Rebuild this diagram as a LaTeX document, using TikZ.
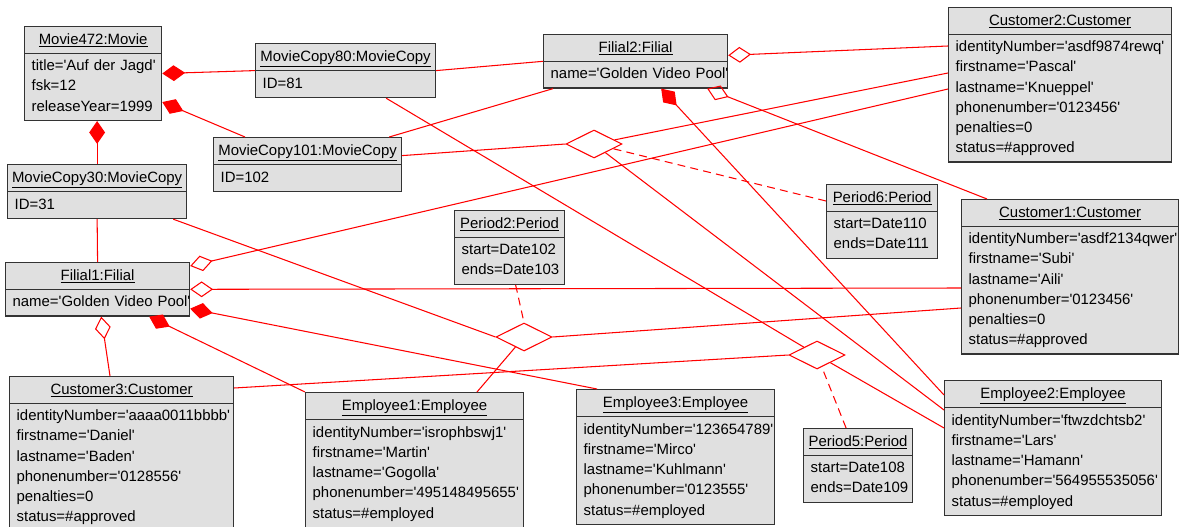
\documentclass[tikz,border=0pt]{standalone}
\usepackage{fontspec}
\setmainfont{Liberation Sans}[Ligatures=TeXOff]
\usepackage{tikz}
\usetikzlibrary{shapes.multipart}
\usetikzlibrary{shapes.geometric}
\usetikzlibrary{arrows.meta}
\definecolor{objgray}{HTML}{E0E0E0}
\definecolor{linkred}{HTML}{FF0000}
\newcommand{\objnode}[5]{
  \node[obj, text width=#3] (#1) at (#2) {\makebox[\linewidth]{\underline{#4}}\strut
    \nodepart{two}\begin{tabular}[t]{@{}l@{}}#5\end{tabular}};
}

\begin{document}
\begin{tikzpicture}[x=0.02cm, y=-0.02cm,
    obj/.style={rectangle split, rectangle split parts=2, draw=black!80, fill=objgray, line width=0.7pt,
      inner xsep=4pt, inner ysep=1.5pt, anchor=north west, font=\fontsize{8.5}{11.5}\selectfont},
    link/.style={draw=linkred, line width=0.6pt},
    aggr/.style={arrows={Diamond[open, length=13pt, width=9pt]-}},
    comp/.style={arrows={Diamond[length=13pt, width=9pt]-}},
    assoc/.style={diamond, draw=linkred, fill=white, line width=0.6pt, minimum width=1.12cm, minimum height=0.56cm, inner sep=0pt},
    period/.style={link, dash pattern=on 4.5pt off 3pt}]
    \useasboundingbox (0,0) rectangle (1179,527);

    \objnode{mov}{24,26}{70pt}{Movie472:Movie}{title='Auf der Jagd'\\fsk=12\\releaseYear=1999}
    \objnode{mc80}{255,43}{94.4pt}{MovieCopy80:MovieCopy}{ID=81}
    \objnode{mc101}{213,137}{99pt}{MovieCopy101:MovieCopy}{ID=102}
    \objnode{mc30}{7,164}{93.9pt}{MovieCopy30:MovieCopy}{ID=31}
    \objnode{fil2}{543,34}{96.7pt}{Filial2:Filial}{name='Golden Video Pool'}
    \objnode{fil1}{5,262}{96.7pt}{Filial1:Filial}{name='Golden Video Pool'}
    \objnode{cust2}{948,7}{118.9pt}{Customer2:Customer}{identityNumber='asdf9874rewq'\\firstname='Pascal'\\lastname='Knueppel'\\phonenumber='0123456'\\penalties=0\\status=\#approved}
    \objnode{cust1}{961,199}{115.5pt}{Customer1:Customer}{identityNumber='asdf2134qwer'\\firstname='Subi'\\lastname='Aili'\\phonenumber='0123456'\\penalties=0\\status=\#approved}
    \objnode{cust3}{9,376}{119.5pt}{Customer3:Customer}{identityNumber='aaaa0011bbbb'\\firstname='Daniel'\\lastname='Baden'\\phonenumber='0128556'\\penalties=0\\status=\#approved}
    \objnode{per6}{826,184}{55.2pt}{Period6:Period}{start=Date110\\ends=Date111}
    \objnode{per2}{454,210}{54.6pt}{Period2:Period}{start=Date102\\ends=Date103}
    \objnode{per5}{803,428}{54pt}{Period5:Period}{start=Date108\\ends=Date109}
    \objnode{emp1}{305,392}{116pt}{Employee1:Employee}{identityNumber='isrophbswj1'\\firstname='Martin'\\lastname='Gogolla'\\phonenumber='495148495655'\\status=\#employed}
    \objnode{emp3}{576,389}{104.7pt}{Employee3:Employee}{identityNumber='123654789'\\firstname='Mirco'\\lastname='Kuhlmann'\\phonenumber='0123555'\\status=\#employed}
    \objnode{emp2}{944,380}{115.5pt}{Employee2:Employee}{identityNumber='ftwzdchtsb2'\\firstname='Lars'\\lastname='Hamann'\\phonenumber='564955535056'\\status=\#employed}

    \node[assoc] (d1) at (594,144) {};
    \node[assoc] (d2) at (524,337) {};
    \node[assoc] (d3) at (817,355) {};

    \draw[link, comp] (mov.east) -- (mc80.west);
    \draw[link, comp] ([shift={(0,-19)}]mov.south east) -- ([shift={(32,0)}]mc101.north west);
    \draw[link, comp] (mov.south -| mc30.north) -- (mc30.north);
    \draw[link] (mc80.east) -- (fil2.west);
    \draw[link] ([shift={(-50,0)}]mc80.south east) -- (d3);
    \draw[link] ([shift={(-13,0)}]mc101.north east) -- ([shift={(10,0)}]fil2.south west);
    \draw[link] ([shift={(0,-9)}]mc101.east) -- (d1.west);
    \draw[link] (mc30.south) -- (fil1.north);
    \draw[link] ([shift={(-14,0)}]mc30.south east) -- (d2.west);

    \draw[link, aggr] ([shift={(0,-6)}]fil2.east) -- ([shift={(0,39)}]cust2.north west);
    \draw[link, aggr] ([shift={(-21,0)}]fil2.south east) -- ([shift={(26,0)}]cust1.north west);
    \draw[link, comp] ([shift={(-67,0)}]fil2.south east) -- ([shift={(0,15)}]emp2.north west);
    \draw[link, aggr] ([shift={(0,4)}]fil1.north east) -- ([shift={(0,82)}]cust2.north west);
    \draw[link, aggr] (fil1.east) -- ([shift={(0,89)}]cust1.north west);
    \draw[link, comp] ([shift={(0,-8)}]fil1.south east) -- ([shift={(21,0)}]emp3.north west);
    \draw[link, comp] ([shift={(-41,0)}]fil1.south east) -- (emp1.north west);
    \draw[link, aggr] ([shift={(-89,0)}]fil1.south east) -- ([shift={(101,0)}]cust3.north west);

    \draw[link] (d1) -- ([shift={(0,66)}]cust2.north west);
    \draw[link] (d1) -- ([shift={(0,30)}]emp2.north west);
    \draw[period] ([shift={(0,17)}]per6.north west) -- (d1);
    \draw[link] (d2.east) -- ([shift={(0,109)}]cust1.north west);
    \draw[link] (d2) -- ([shift={(172,0)}]emp1.north west);
    \draw[period] ([shift={(6,0)}]per2.south) -- (d2.north);
    \draw[link] (d3.west) -- ([shift={(0,12)}]cust3.north east);
    \draw[link] (d3) -- ([shift={(0,48)}]emp2.north west);
    \draw[period] ([shift={(-12,0)}]per5.north) -- (d3);
\end{tikzpicture}
\end{document}
